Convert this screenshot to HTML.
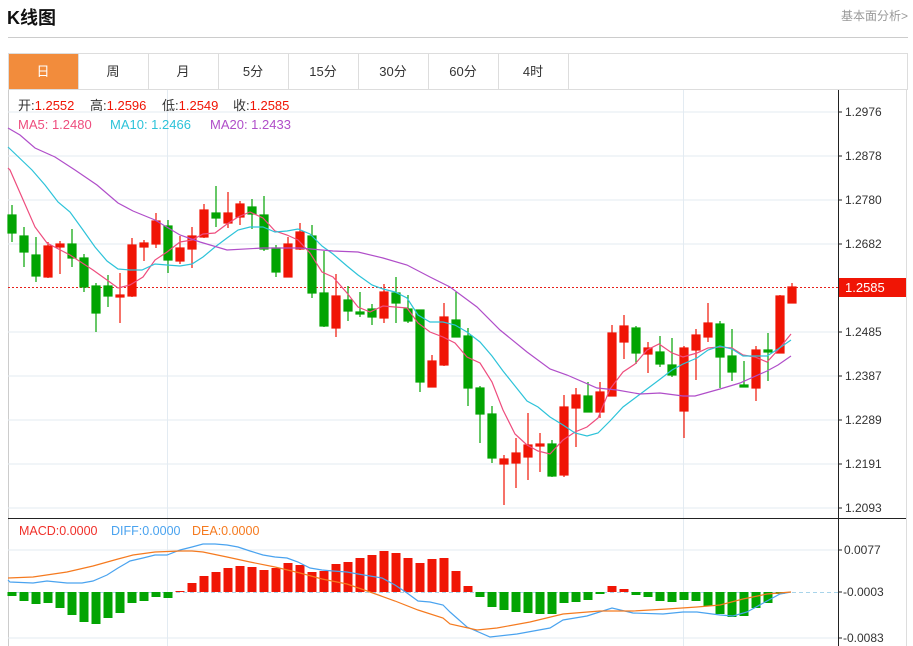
<!DOCTYPE html>
<html><head><meta charset="utf-8"><style>
body{margin:0;background:#fff;width:913px;height:646px;overflow:hidden;font-family:"Liberation Sans","Noto Sans CJK SC",sans-serif;}
</style></head><body>
<svg width="913" height="646" xmlns="http://www.w3.org/2000/svg" style="position:absolute;left:0;top:0;font-family:'Liberation Sans','Noto Sans CJK SC',sans-serif">
<text x="7" y="24" font-size="18" font-weight="bold" fill="#111">K线图</text>
<text x="908" y="20" font-size="12" fill="#999" text-anchor="end">基本面分析&gt;</text>
<line x1="8" y1="37.5" x2="908" y2="37.5" stroke="#ccc"/>
<rect x="8.5" y="53.5" width="899" height="36" fill="#fff" stroke="#ddd"/>
<rect x="9" y="54" width="69" height="35" fill="#f28c3c"/>
<g stroke="#ddd"><line x1="78.5" y1="54" x2="78.5" y2="89"/><line x1="148.5" y1="54" x2="148.5" y2="89"/><line x1="218.5" y1="54" x2="218.5" y2="89"/><line x1="288.5" y1="54" x2="288.5" y2="89"/><line x1="358.5" y1="54" x2="358.5" y2="89"/><line x1="428.5" y1="54" x2="428.5" y2="89"/><line x1="498.5" y1="54" x2="498.5" y2="89"/><line x1="568.5" y1="54" x2="568.5" y2="89"/></g>
<g font-size="13" text-anchor="middle" fill="#333"><text x="43" y="76" fill="#fff">日</text><text x="113" y="76">周</text><text x="183" y="76">月</text><text x="253" y="76">5分</text><text x="323" y="76">15分</text><text x="393" y="76">30分</text><text x="463" y="76">60分</text><text x="533" y="76">4时</text></g>
<line x1="906.5" y1="90" x2="906.5" y2="646" stroke="#ddd"/>
<line x1="8.5" y1="90" x2="8.5" y2="646" stroke="#ccc"/>
<g stroke="#e3ebf2"><line x1="8" y1="112" x2="838" y2="112"/><line x1="8" y1="156" x2="838" y2="156"/><line x1="8" y1="200" x2="838" y2="200"/><line x1="8" y1="244" x2="838" y2="244"/><line x1="8" y1="332" x2="838" y2="332"/><line x1="8" y1="376" x2="838" y2="376"/><line x1="8" y1="420" x2="838" y2="420"/><line x1="8" y1="464" x2="838" y2="464"/><line x1="8" y1="508" x2="838" y2="508"/><line x1="167.5" y1="90" x2="167.5" y2="646"/><line x1="683.5" y1="90" x2="683.5" y2="646"/><line x1="8" y1="550" x2="838" y2="550"/><line x1="8" y1="638" x2="838" y2="638"/></g>
<line x1="838.5" y1="90" x2="838.5" y2="646" stroke="#222"/>
<line x1="8" y1="518.5" x2="906" y2="518.5" stroke="#222"/>
<g font-size="12" fill="#333"><text x="845" y="116">1.2976</text><text x="845" y="160">1.2878</text><text x="845" y="204">1.2780</text><text x="845" y="248">1.2682</text><text x="845" y="336">1.2485</text><text x="845" y="380">1.2387</text><text x="845" y="424">1.2289</text><text x="845" y="468">1.2191</text><text x="845" y="512">1.2093</text><text x="844" y="554">0.0077</text><text x="843" y="596">-0.0003</text><text x="843" y="642">-0.0083</text></g>
<g stroke="#222"><line x1="838" y1="112" x2="842" y2="112"/><line x1="838" y1="156" x2="842" y2="156"/><line x1="838" y1="200" x2="842" y2="200"/><line x1="838" y1="244" x2="842" y2="244"/><line x1="838" y1="332" x2="842" y2="332"/><line x1="838" y1="376" x2="842" y2="376"/><line x1="838" y1="420" x2="842" y2="420"/><line x1="838" y1="464" x2="842" y2="464"/><line x1="838" y1="508" x2="842" y2="508"/><line x1="838" y1="550" x2="842" y2="550"/><line x1="838" y1="592" x2="842" y2="592"/><line x1="838" y1="638" x2="842" y2="638"/></g>
<line x1="8" y1="287.5" x2="838" y2="287.5" stroke="#e8201a" stroke-dasharray="2,2"/>
<rect x="839" y="278" width="67" height="19" fill="#f01505"/>
<text x="845" y="292" font-size="13" fill="#fff">1.2585</text>
<g font-size="13">
<text x="18" y="110" fill="#333">开:<tspan fill="#f01505">1.2552</tspan></text>
<text x="90" y="110" fill="#333">高:<tspan fill="#f01505">1.2596</tspan></text>
<text x="162" y="110" fill="#333">低:<tspan fill="#f01505">1.2549</tspan></text>
<text x="233" y="110" fill="#333">收:<tspan fill="#f01505">1.2585</tspan></text>
<text x="18" y="129" fill="#ee4d7e">MA5: 1.2480</text>
<text x="110" y="129" fill="#2dc3d9">MA10: 1.2466</text>
<text x="210" y="129" fill="#b04ec9">MA20: 1.2433</text>
<text x="19" y="535" font-size="12.5" fill="#f0302a">MACD:0.0000</text>
<text x="111" y="535" font-size="12.5" fill="#4aa3ef">DIFF:0.0000</text>
<text x="192" y="535" font-size="12.5" fill="#f57a1f">DEA:0.0000</text>
</g>
<g id="c" stroke-width="1.2">
<g stroke="#02a402" fill="#02a402">
<line x1="12" y1="205" x2="12" y2="242"/><rect x="8" y="215" width="8" height="18"/>
<line x1="24" y1="227" x2="24" y2="267"/><rect x="20" y="236" width="8" height="16"/>
<line x1="36" y1="237" x2="36" y2="282"/><rect x="32" y="255" width="8" height="21"/>
<line x1="72" y1="229" x2="72" y2="267"/><rect x="68" y="244" width="8" height="14"/>
<line x1="84" y1="254" x2="84" y2="292"/><rect x="80" y="258" width="8" height="29"/>
<line x1="96" y1="283" x2="96" y2="332"/><rect x="92" y="286" width="8" height="27"/>
<line x1="108" y1="275" x2="108" y2="307"/><rect x="104" y="286" width="8" height="10"/>
<line x1="168" y1="220" x2="168" y2="273"/><rect x="164" y="226" width="8" height="34"/>
<line x1="216" y1="186" x2="216" y2="227"/><rect x="212" y="213" width="8" height="5"/>
<line x1="252" y1="199" x2="252" y2="229"/><rect x="248" y="207" width="8" height="7"/>
<line x1="264" y1="196" x2="264" y2="251"/><rect x="260" y="215" width="8" height="34"/>
<line x1="276" y1="245" x2="276" y2="277"/><rect x="272" y="248" width="8" height="24"/>
<line x1="312" y1="225" x2="312" y2="298"/><rect x="308" y="236" width="8" height="57"/>
<line x1="324" y1="251" x2="324" y2="327"/><rect x="320" y="293" width="8" height="33"/>
<line x1="348" y1="286" x2="348" y2="321"/><rect x="344" y="300" width="8" height="11"/>
<line x1="360" y1="292" x2="360" y2="317"/><rect x="356" y="312" width="8" height="2"/>
<line x1="372" y1="304" x2="372" y2="325"/><rect x="368" y="309" width="8" height="8"/>
<line x1="396" y1="277" x2="396" y2="323"/><rect x="392" y="293" width="8" height="10"/>
<line x1="408" y1="295" x2="408" y2="323"/><rect x="404" y="309" width="8" height="12"/>
<line x1="420" y1="310" x2="420" y2="392"/><rect x="416" y="310" width="8" height="72"/>
<line x1="456" y1="292" x2="456" y2="337"/><rect x="452" y="320" width="8" height="17"/>
<line x1="468" y1="328" x2="468" y2="406"/><rect x="464" y="336" width="8" height="52"/>
<line x1="480" y1="386" x2="480" y2="443"/><rect x="476" y="388" width="8" height="26"/>
<line x1="492" y1="406" x2="492" y2="463"/><rect x="488" y="414" width="8" height="44"/>
<line x1="552" y1="440" x2="552" y2="477"/><rect x="548" y="444" width="8" height="32"/>
<line x1="588" y1="382" x2="588" y2="412"/><rect x="584" y="396" width="8" height="16"/>
<line x1="636" y1="326" x2="636" y2="364"/><rect x="632" y="328" width="8" height="25"/>
<line x1="660" y1="336" x2="660" y2="367"/><rect x="656" y="352" width="8" height="12"/>
<line x1="672" y1="338" x2="672" y2="377"/><rect x="668" y="365" width="8" height="10"/>
<line x1="720" y1="321" x2="720" y2="388"/><rect x="716" y="324" width="8" height="33"/>
<line x1="732" y1="329" x2="732" y2="381"/><rect x="728" y="356" width="8" height="16"/>
<line x1="744" y1="361" x2="744" y2="387"/><rect x="740" y="385" width="8" height="2"/>
<line x1="768" y1="333" x2="768" y2="381"/><rect x="764" y="350" width="8" height="2"/>
</g>
<g stroke="#f01505" fill="#f01505">
<line x1="48" y1="242" x2="48" y2="278"/><rect x="44" y="246" width="8" height="31"/>
<line x1="60" y1="241" x2="60" y2="274"/><rect x="56" y="244" width="8" height="3"/>
<line x1="120" y1="273" x2="120" y2="323"/><rect x="116" y="295" width="8" height="2"/>
<line x1="132" y1="238" x2="132" y2="297"/><rect x="128" y="245" width="8" height="51"/>
<line x1="144" y1="240" x2="144" y2="261"/><rect x="140" y="243" width="8" height="4"/>
<line x1="156" y1="213" x2="156" y2="248"/><rect x="152" y="221" width="8" height="23"/>
<line x1="180" y1="236" x2="180" y2="264"/><rect x="176" y="248" width="8" height="13"/>
<line x1="192" y1="227" x2="192" y2="268"/><rect x="188" y="236" width="8" height="13"/>
<line x1="204" y1="204" x2="204" y2="238"/><rect x="200" y="210" width="8" height="27"/>
<line x1="228" y1="192" x2="228" y2="228"/><rect x="224" y="213" width="8" height="10"/>
<line x1="240" y1="201" x2="240" y2="225"/><rect x="236" y="204" width="8" height="13"/>
<line x1="288" y1="237" x2="288" y2="277"/><rect x="284" y="244" width="8" height="33"/>
<line x1="300" y1="223" x2="300" y2="250"/><rect x="296" y="232" width="8" height="17"/>
<line x1="336" y1="274" x2="336" y2="337"/><rect x="332" y="296" width="8" height="32"/>
<line x1="384" y1="284" x2="384" y2="323"/><rect x="380" y="292" width="8" height="26"/>
<line x1="432" y1="355" x2="432" y2="387"/><rect x="428" y="361" width="8" height="26"/>
<line x1="444" y1="303" x2="444" y2="366"/><rect x="440" y="317" width="8" height="48"/>
<line x1="504" y1="455" x2="504" y2="505"/><rect x="500" y="459" width="8" height="5"/>
<line x1="516" y1="438" x2="516" y2="488"/><rect x="512" y="453" width="8" height="10"/>
<line x1="528" y1="413" x2="528" y2="480"/><rect x="524" y="445" width="8" height="12"/>
<line x1="540" y1="433" x2="540" y2="472"/><rect x="536" y="444" width="8" height="2"/>
<line x1="564" y1="395" x2="564" y2="477"/><rect x="560" y="407" width="8" height="68"/>
<line x1="576" y1="388" x2="576" y2="447"/><rect x="572" y="395" width="8" height="13"/>
<line x1="600" y1="382" x2="600" y2="418"/><rect x="596" y="392" width="8" height="20"/>
<line x1="612" y1="325" x2="612" y2="396"/><rect x="608" y="333" width="8" height="63"/>
<line x1="624" y1="315" x2="624" y2="359"/><rect x="620" y="326" width="8" height="16"/>
<line x1="648" y1="342" x2="648" y2="373"/><rect x="644" y="348" width="8" height="6"/>
<line x1="684" y1="346" x2="684" y2="438"/><rect x="680" y="348" width="8" height="63"/>
<line x1="696" y1="329" x2="696" y2="380"/><rect x="692" y="335" width="8" height="15"/>
<line x1="708" y1="303" x2="708" y2="342"/><rect x="704" y="323" width="8" height="14"/>
<line x1="756" y1="346" x2="756" y2="401"/><rect x="752" y="350" width="8" height="38"/>
<line x1="780" y1="295" x2="780" y2="353"/><rect x="776" y="296" width="8" height="57"/>
<line x1="792" y1="283" x2="792" y2="303"/><rect x="788" y="287" width="8" height="16"/>
</g></g>
<g fill="none" stroke-width="1.2">
<polyline stroke="#ee4d7e" points="8,168 10,170 35,227 47,243 70,255 93,270 107,280 118,288 130,285 143,277 155,260 167,252 180,242 192,240 203,234 215,233 227,224 238,217 250,212 263,218 275,231 287,235 298,240 310,253 322,272 333,277 347,293 358,307 370,312 383,306 395,307 407,308 418,323 430,332 443,337 455,343 467,357 480,363 492,382 503,410 515,434 527,445 538,451 550,454 563,440 575,432 587,427 598,418 610,389 623,372 635,364 647,350 659,344 672,353 683,357 697,353 708,348 720,347 732,348 743,355 755,357 767,362 778,350 791,334"/>
<polyline stroke="#2dc3d9" points="8,147 32,170 45,185 58,202 70,212 83,230 95,247 107,261 118,269 130,270 142,270 155,264 167,265 180,266 192,264 203,257 215,247 227,238 238,230 250,227 263,227 275,232 287,231 298,229 310,234 322,246 333,254 347,266 358,275 372,285 383,289 395,292 407,298 418,315 430,322 443,322 455,325 467,332 480,342 492,356 503,371 515,386 527,401 538,407 550,417 563,425 575,433 587,436 598,433 610,421 623,407 635,398 647,389 659,380 672,370 683,364 697,358 708,350 720,346 732,349 743,356 755,356 767,356 778,349 791,340"/>
<polyline stroke="#b04ec9" points="8,128 20,135 35,148 55,157 75,170 97,185 118,203 133,211 155,220 180,235 200,242 227,250 263,248 300,248 333,251 358,252 383,258 407,265 430,277 450,287 477,307 500,330 527,352 550,369 567,375 597,388 617,390 640,394 660,393 683,396 695,396 720,389 740,383 767,371 778,365 791,356"/>
</g>
<line x1="8" y1="592.5" x2="838" y2="592.5" stroke="#a8d4ea" stroke-dasharray="4,3"/>
<g fill="#02a402">
<rect x="7.5" y="592" width="9" height="4"/><rect x="19.5" y="592" width="9" height="9"/><rect x="31.5" y="592" width="9" height="12"/><rect x="43.5" y="592" width="9" height="11"/><rect x="55.5" y="592" width="9" height="16"/><rect x="67.5" y="592" width="9" height="23"/><rect x="79.5" y="592" width="9" height="30"/><rect x="91.5" y="592" width="9" height="32"/><rect x="103.5" y="592" width="9" height="26"/><rect x="115.5" y="592" width="9" height="21"/><rect x="127.5" y="592" width="9" height="11"/><rect x="139.5" y="592" width="9" height="9"/><rect x="151.5" y="592" width="9" height="5"/><rect x="163.5" y="592" width="9" height="6"/>
<rect x="475.5" y="592" width="9" height="5"/><rect x="487.5" y="592" width="9" height="15"/><rect x="499.5" y="592" width="9" height="18"/><rect x="511.5" y="592" width="9" height="20"/><rect x="523.5" y="592" width="9" height="21"/><rect x="535.5" y="592" width="9" height="22"/><rect x="547.5" y="592" width="9" height="22"/><rect x="559.5" y="592" width="9" height="11"/><rect x="571.5" y="592" width="9" height="10"/><rect x="583.5" y="592" width="9" height="8"/><rect x="595.5" y="592" width="9" height="2"/>
<rect x="631.5" y="592" width="9" height="3"/><rect x="643.5" y="592" width="9" height="5"/><rect x="655.5" y="592" width="9" height="9"/><rect x="667.5" y="592" width="9" height="10"/><rect x="679.5" y="592" width="9" height="8"/><rect x="691.5" y="592" width="9" height="9"/><rect x="703.5" y="592" width="9" height="14"/><rect x="715.5" y="592" width="9" height="22"/><rect x="727.5" y="592" width="9" height="25"/><rect x="739.5" y="592" width="9" height="24"/><rect x="751.5" y="592" width="9" height="16"/><rect x="763.5" y="592" width="9" height="11"/><rect x="775.5" y="592" width="9" height="2"/>
</g>
<g fill="#f01505">
<rect x="175.5" y="591" width="9" height="1"/><rect x="187.5" y="583" width="9" height="9"/><rect x="199.5" y="576" width="9" height="16"/><rect x="211.5" y="572" width="9" height="20"/><rect x="223.5" y="568" width="9" height="24"/><rect x="235.5" y="566" width="9" height="26"/><rect x="247.5" y="567" width="9" height="25"/><rect x="259.5" y="570" width="9" height="22"/><rect x="271.5" y="568" width="9" height="24"/><rect x="283.5" y="563" width="9" height="29"/><rect x="295.5" y="565" width="9" height="27"/><rect x="307.5" y="572" width="9" height="20"/><rect x="319.5" y="571" width="9" height="21"/><rect x="331.5" y="564" width="9" height="28"/><rect x="343.5" y="562" width="9" height="30"/><rect x="355.5" y="558" width="9" height="34"/><rect x="367.5" y="555" width="9" height="37"/><rect x="379.5" y="551" width="9" height="41"/><rect x="391.5" y="553" width="9" height="39"/><rect x="403.5" y="558" width="9" height="34"/><rect x="415.5" y="563" width="9" height="29"/><rect x="427.5" y="559" width="9" height="33"/><rect x="439.5" y="558" width="9" height="34"/><rect x="451.5" y="571" width="9" height="21"/><rect x="463.5" y="586" width="9" height="6"/>
<rect x="607.5" y="586" width="9" height="6"/><rect x="619.5" y="589" width="9" height="3"/>
</g>
<g fill="none" stroke-width="1.2">
<polyline stroke="#4aa3ef" points="8,580 10,582 33,583 47,581 67,583 82,583 93,581 107,575 118,568 130,561 143,558 155,555 167,555 180,550 192,547 203,544 215,544 227,545 238,547 250,551 263,555 275,557 287,558 298,562 310,568 322,570 333,571 347,572 358,574 370,576 382,578 395,585 407,593 418,601 430,602 443,605 450,612 467,627 490,637 517,634 550,628 563,620 587,616 612,608 633,613 663,614 683,612 697,612 720,615 733,616 747,612 767,601 780,594 791,592"/>
<polyline stroke="#f57a1f" points="8,578 33,577 67,572 93,566 118,559 133,555 155,552 180,551 192,551 203,552 227,557 250,562 275,567 300,573 322,579 347,584 370,592 395,601 418,610 443,618 450,624 477,630 497,628 530,622 563,614 600,611 633,611 667,609 697,607 720,605 743,599 767,594 791,592"/>
</g>
</svg>
</body></html>
